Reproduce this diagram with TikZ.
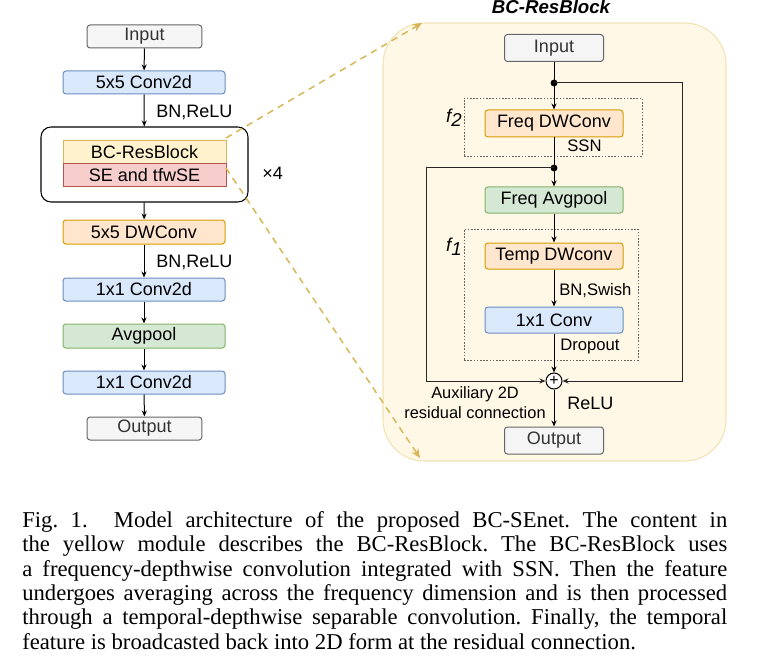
\documentclass[tikz,border=0pt]{standalone}
\usepackage{fontspec}
\setmainfont{Liberation Sans}
\newfontfamily\capfont{Liberation Serif}
\usetikzlibrary{arrows.meta}
\definecolor{iofill}{HTML}{F5F5F5}
\definecolor{iodraw}{HTML}{666666}
\definecolor{bluefill}{HTML}{DAE8FC}
\definecolor{bluedraw}{HTML}{6C8EBF}
\definecolor{greenfill}{HTML}{D5E8D4}
\definecolor{greendraw}{HTML}{82B366}
\definecolor{orangefill}{HTML}{FFE6CC}
\definecolor{orangedraw}{HTML}{D79B00}
\definecolor{yellowfill}{HTML}{FFF2CC}
\definecolor{yellowdraw}{HTML}{D6B656}
\definecolor{redfill}{HTML}{F8CECC}
\definecolor{reddraw}{HTML}{B85450}
\definecolor{panelfill}{HTML}{FFF8E6}
\definecolor{paneldraw}{HTML}{F2E2B6}
\begin{document}
\begin{tikzpicture}[x=0.75pt,y=-0.75pt,
   blk/.style={draw, rounded corners=2.2pt, line width=0.75pt, inner sep=0pt, font=\fontsize{13.5}{16}\selectfont},
   io/.style={blk, fill=iofill, draw=iodraw, text=black!80},
   conv/.style={blk, fill=bluefill, draw=bluedraw},
   pool/.style={blk, fill=greenfill, draw=greendraw},
   dw/.style={blk, fill=orangefill, draw=orangedraw},
   lbl/.style={anchor=west, inner sep=0pt, font=\fontsize{13.5}{16}\selectfont},
   slbl/.style={anchor=west, inner sep=0pt, font=\fontsize{12.5}{15}\selectfont},
   arr/.style={-{Stealth[length=4.5pt,width=3.8pt]}, line width=0.75pt},
   wire/.style={line width=0.75pt},
   zoomline/.style={-{Stealth[length=7pt,width=6pt]}, dashed, dash pattern=on 5pt off 4pt, line width=1.1pt, yellowdraw},
   fbox/.style={draw=black!60, dash pattern=on 1.2pt off 1.2pt, line width=0.5pt, inner sep=0pt}
]
   \useasboundingbox (0,0) rectangle (773,659);

   % left column
   \node[io, minimum width=86pt, minimum height=17.25pt] (inL) at (144.5,36.5) {Input};
   \node[conv, minimum width=121.5pt, minimum height=17.25pt] (convA) at (144,82.5) {5x5 Conv2d};
   \node[draw, rounded corners=7.5pt, line width=0.8pt, minimum width=155.25pt, minimum height=56.25pt] (group) at (144.5,164.5) {};
   \node[blk, sharp corners, fill=yellowfill, draw=yellowdraw, minimum width=122.25pt, minimum height=16.9pt] (bcres) at (144.5,152.25) {BC-ResBlock};
   \node[blk, sharp corners, fill=redfill, draw=reddraw, minimum width=122.25pt, minimum height=16.9pt] (se) at (144.5,174.75) {SE and tfwSE};
   \node[lbl] (times) at (262,173) {×4};
   \node[dw, minimum width=121.5pt, minimum height=18pt] (dwA) at (144,232) {5x5 DWConv};
   \node[conv, minimum width=121.5pt, minimum height=17.25pt] (convB) at (144,289.5) {1x1 Conv2d};
   \node[pool, minimum width=121.5pt, minimum height=18pt] (avg) at (144,336) {Avgpool};
   \node[conv, minimum width=121.5pt, minimum height=17.25pt] (convC) at (144,382.5) {1x1 Conv2d};
   \node[io, minimum width=86pt, minimum height=17.25pt] (outL) at (144.5,428.5) {Output};
   \node[lbl] (bnA) at (156,112) {BN,ReLU};
   \node[lbl] (bnB) at (156,262) {BN,ReLU};

   \draw[arr] (inL) -- (convA);
   \draw[arr] (convA) -- (group);
   \draw[arr] (group) -- (dwA);
   \draw[arr] (dwA) -- (convB);
   \draw[arr] (convB) -- (avg);
   \draw[arr] (avg) -- (convC);
   \draw[arr] (convC) -- (outL);

   % BC-ResBlock panel
   \node[draw=paneldraw, fill=panelfill, rounded corners=31pt, line width=0.8pt, minimum width=257.25pt, minimum height=328.5pt] (panel) at (554.5,242) {};
   \node[anchor=base, inner sep=0pt, font=\fontsize{14}{16}\selectfont\bfseries\itshape] (title) at (551,14) {BC-ResBlock};

   \node[fbox, minimum width=133.5pt, minimum height=43.5pt] (ftwo) at (553,127) {};
   \node[fbox, minimum width=130.5pt, minimum height=98.25pt] (fone) at (551,294.5) {};
   \node[inner sep=0pt, font=\fontsize{14}{16}\selectfont\itshape] (ftwolbl) at (454,118) {f\raisebox{-0.4ex}{2}};
   \node[inner sep=0pt, font=\fontsize{14}{16}\selectfont\itshape] (fonelbl) at (454,247) {f\raisebox{-0.4ex}{1}};

   \node[io, minimum width=74.25pt, minimum height=20.25pt] (inR) at (554,48) {Input};
   \node[dw, minimum width=103.5pt, minimum height=20.25pt] (freqdw) at (554,123.5) {Freq DWConv};
   \node[pool, minimum width=103.5pt, minimum height=19.5pt] (freqavg) at (554,200) {Freq Avgpool};
   \node[dw, minimum width=103.5pt, minimum height=19.5pt] (tempdw) at (554,256) {Temp DWconv};
   \node[conv, minimum width=103.5pt, minimum height=19.5pt] (convR) at (554,320) {1x1 Conv};
   \node[draw, circle, fill=white, line width=0.75pt, minimum size=12pt, inner sep=0pt, font=\fontsize{12}{12}\selectfont] (sum) at (554,381) {+};
   \node[io, minimum width=74.25pt, minimum height=20.25pt] (outR) at (554,440.5) {Output};

   \node[slbl] (ssn) at (567,146) {SSN};
   \node[slbl] (swish) at (559,291) {BN,Swish};
   \node[slbl] (drop) at (560,346) {Dropout};
   \node[lbl] (relu) at (567,403) {ReLU};
   \node[align=center, inner sep=0pt, font=\fontsize{12.3}{15}\selectfont] (aux) at (475,403) {Auxiliary 2D\\residual connection};

   \coordinate (split1) at (554,83);
   \coordinate (split2) at (554,168);
   \fill (split1) circle (2.6pt);
   \fill (split2) circle (2.6pt);

   \draw[wire] (inR) -- (split1);
   \draw[arr] (split1) -- (freqdw);
   \draw[wire] (freqdw) -- (split2);
   \draw[arr] (split2) -- (freqavg);
   \draw[arr] (freqavg) -- (tempdw);
   \draw[arr] (tempdw) -- (convR);
   \draw[arr] (convR) -- (sum);
   \draw[arr, black!85] (split1) -- ++(128,0) |- (sum);
   \draw[arr, black!85] (split2) -- ++(-128,0) |- (sum);
   \draw[arr] (sum) -- (outR);

   % zoom lines
   \coordinate (zoomA) at (226,138);
   \coordinate (zoomB) at (226,168);
   \coordinate (panelA) at (422,23);
   \coordinate (panelB) at (420,458);
   \draw[zoomline] (zoomA) -- (panelA);
   \draw[zoomline] (zoomB) -- (panelB);

   % caption
   \node[anchor=north west, inner sep=0pt, text width=528.75pt, align=justify, font=\capfont\fontsize{17}{18.3}\selectfont\frenchspacing] (caption) at (22,511) {Fig.~1.\hspace{0.6em} Model architecture of the proposed BC-SEnet. The content in\linebreak
   the yellow module describes the BC-ResBlock. The BC-ResBlock uses\linebreak
   a frequency-depthwise convolution integrated with SSN. Then the feature\linebreak
   undergoes averaging across the frequency dimension and is then processed\linebreak
   through a temporal-depthwise separable convolution. Finally, the temporal\linebreak
   feature is broadcasted back into 2D form at the residual connection.};
\end{tikzpicture}
\end{document}
